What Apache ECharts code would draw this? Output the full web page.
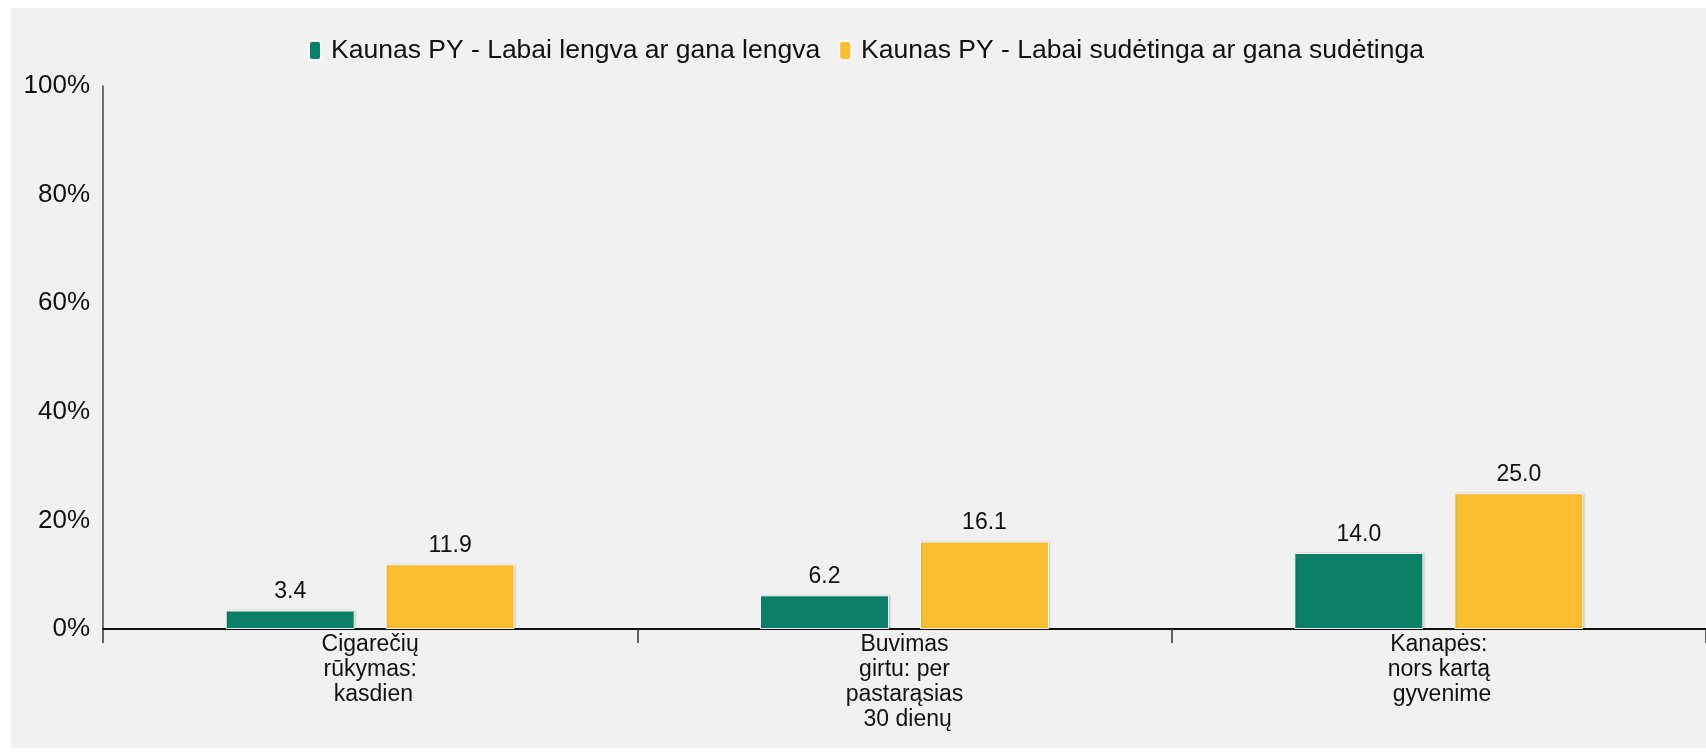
<!DOCTYPE html>
<html>
<head>
<meta charset="utf-8">
<script src="https://cdn.jsdelivr.net/npm/echarts@6/dist/echarts.min.js"></script>
<style>
	html, body { margin: 0; padding: 0; background: #fff; }
	#main { position: absolute; left: 11px; top: 8px; width: 1695px; height: 740px; background: #f1f1f1; }
</style>
</head>
<body>
<div id="main"></div>
<script>
// kategorijos ir reikšmės
var categories = ['Cigarečių\nrūkymas:\n kasdien', 'Buvimas\ngirtu: per\npastarąsias\n 30 dienų', 'Kanapės:\nnors kartą\n gyvenime'];
var seriesNames = ['Kaunas PY - Labai lengva ar gana lengva', 'Kaunas PY - Labai sudėtinga ar gana sudėtinga'];
var easyValues = [3.4, 6.2, 14.0];
var hardValues = [11.9, 16.1, 25.0];
var yTicks = [0, 20, 40, 60, 80, 100];

var myChart = echarts.init(document.getElementById('main'));

var font = 'Liberation Sans, Arial, sans-serif';

function barSeries(name, data, color) {
	return {
		name: name,
		type: 'bar',
		data: data,
		barWidth: 129,
		barGap: '24%',
		itemStyle: {
			color: color,
			borderColor: 'rgba(255,255,255,0.9)',
			borderWidth: 1,
			shadowColor: 'rgba(0,0,0,0.18)',
			shadowBlur: 2,
			shadowOffsetX: 1
		},
		label: {
			show: true,
			position: 'top',
			distance: 7,
			fontFamily: font,
			fontSize: 23,
			color: '#111',
			formatter: function (p) { return p.value.toFixed(1); }
		}
	};
}

option = {
	animation: false,
	legend: {
		top: 24,
		left: 292,
		itemWidth: 12,
		itemHeight: 19,
		itemGap: 18,
		textStyle: { fontFamily: font, fontSize: 26.5, color: '#111', padding: [0, 0, 0, 5] },
		data: seriesNames
	},
	grid: {
		left: 92,
		right: 0,
		top: 78,
		bottom: 119,
		containLabel: false
	},
	xAxis: {
		type: 'category',
		data: categories,
		axisLine: { lineStyle: { color: '#111', width: 2 } },
		axisTick: { show: true, length: 14, lineStyle: { color: '#333', width: 1.5 } },
		axisLabel: {
			interval: 0,
			margin: 3,
			fontFamily: font,
			fontSize: 23,
			lineHeight: 25,
			color: '#111'
		}
	},
	yAxis: {
		type: 'value',
		min: yTicks[0],
		max: yTicks[yTicks.length - 1],
		interval: yTicks[1] - yTicks[0],
		axisLine: { show: true, lineStyle: { color: '#444', width: 1.5 } },
		axisTick: { show: false },
		splitLine: { show: false },
		axisLabel: {
			margin: 13,
			fontFamily: font,
			fontSize: 26,
			color: '#111',
			formatter: '{value}%'
		}
	},
	series: [
		barSeries(seriesNames[0], easyValues, '#0b8066'),
		barSeries(seriesNames[1], hardValues, '#fbbe2f')
	]
};

myChart.setOption(option);
</script>
</body>
</html>
